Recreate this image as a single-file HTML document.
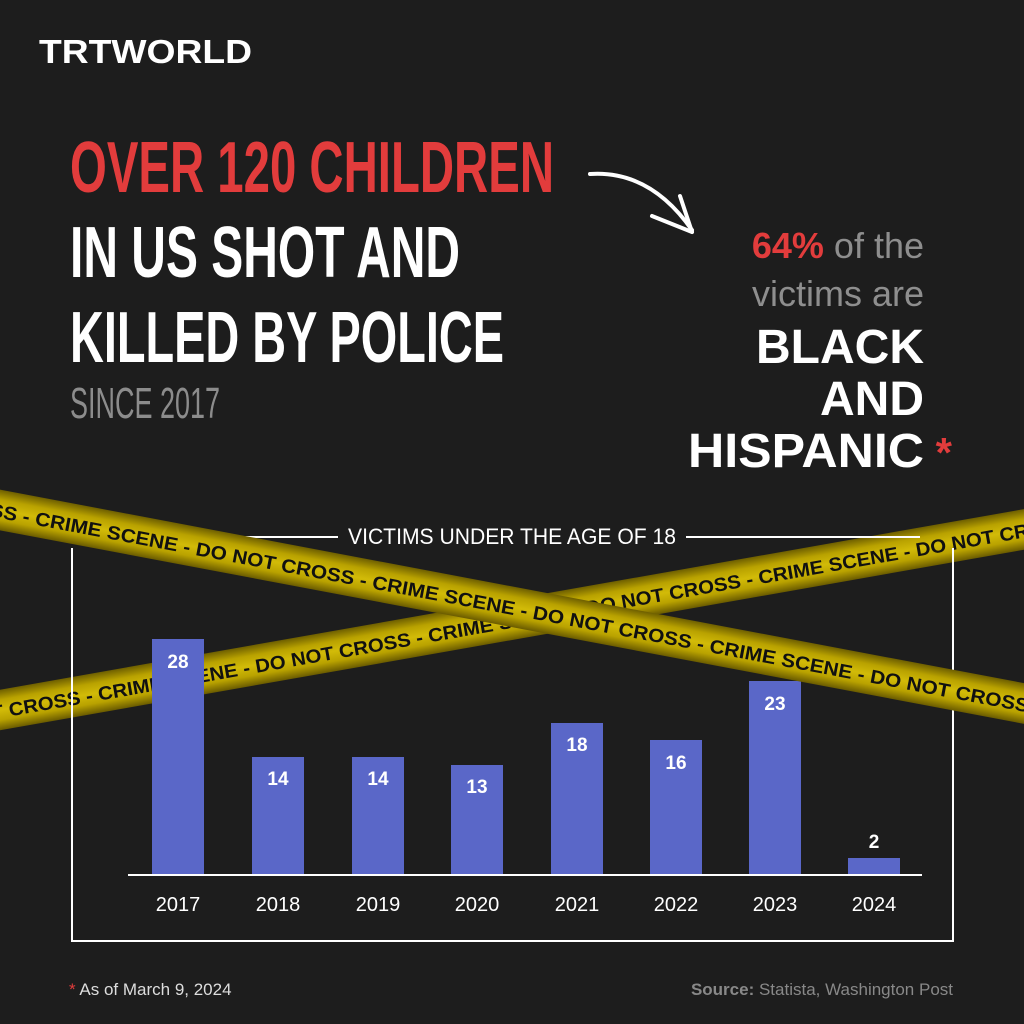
<!DOCTYPE html>
<html><head><meta charset="utf-8"><style>
html,body{margin:0;padding:0;background:#1d1d1d;}
svg{display:block;}
</style></head><body>
<svg width="1024" height="1024" viewBox="0 0 1024 1024" xmlns="http://www.w3.org/2000/svg">
<defs>
<linearGradient id="tg" x1="0" y1="0" x2="0" y2="1">
<stop offset="0" stop-color="#6e5f00"/><stop offset="0.25" stop-color="#b9a200"/><stop offset="0.5" stop-color="#d2bb08"/><stop offset="0.75" stop-color="#b9a200"/><stop offset="1" stop-color="#6a5b00"/>
</linearGradient>
</defs>
<rect width="1024" height="1024" fill="#1d1d1d"/>
<!-- logo -->
<text x="39" y="63" font-family="Liberation Sans, sans-serif" font-weight="bold" font-size="33" fill="#fff" textLength="213" lengthAdjust="spacingAndGlyphs">TRTWORLD</text>
<!-- headline -->
<g font-family="Liberation Sans Narrow, Liberation Sans, sans-serif" font-weight="bold">
<text x="70" y="192" font-size="72" fill="#e23c3c" textLength="484" lengthAdjust="spacingAndGlyphs">OVER 120 CHILDREN</text>
<text x="70" y="277" font-size="72" fill="#fff" textLength="390" lengthAdjust="spacingAndGlyphs">IN US SHOT AND</text>
<text x="70" y="362" font-size="72" fill="#fff" textLength="434" lengthAdjust="spacingAndGlyphs">KILLED BY POLICE</text>
<text x="70" y="418" font-size="44" font-weight="normal" fill="#8c8c8c" textLength="150" lengthAdjust="spacingAndGlyphs">SINCE 2017</text>
</g>
<!-- arrow -->
<g stroke="#fff" stroke-width="4" fill="none" stroke-linecap="round">
<path d="M590 174 Q650 170 692 230"/>
<path d="M692 232 L680 196"/><path d="M692 232 L652 216"/>
</g>
<!-- right text -->
<g font-family="Liberation Sans, sans-serif" text-anchor="end">
<text x="924" y="258" font-size="36" fill="#8e8e8e"><tspan fill="#e23c3c" font-weight="bold">64%</tspan> of the</text>
<text x="924" y="306" font-size="36" fill="#8e8e8e">victims are</text>
<text x="924" y="363" font-size="48" font-weight="bold" fill="#fff">BLACK</text>
<text x="924" y="415" font-size="48" font-weight="bold" fill="#fff">AND</text>
<text x="924" y="467" font-size="48" font-weight="bold" fill="#fff" textLength="236" lengthAdjust="spacingAndGlyphs">HISPANIC</text>
<text x="952" y="467" font-size="42" font-weight="bold" fill="#e23c3c">*</text>
</g>
<!-- tape 2 (under bars) -->
<g transform="translate(0,710) rotate(-10)">
<rect x="-60" y="-20" width="1200" height="40" fill="url(#tg)"/>
<text x="-40" y="8" font-family="Liberation Sans, sans-serif" font-weight="bold" font-size="19" fill="#111" textLength="1160" lengthAdjust="spacingAndGlyphs">NOT CROSS - CRIME SCENE  -  DO NOT CROSS - CRIME SCENE  -  DO NOT CROSS - CRIME SCENE  -  DO NOT CROSS - C</text>
</g>
<!-- chart frame -->
<g stroke="#fff" stroke-width="2" fill="none">
<path d="M72 548 V941 H953 V548"/>
<path d="M207 537 H338"/><path d="M686 537 H920"/>
</g>
<text x="512" y="544" text-anchor="middle" font-family="Liberation Sans Narrow, Liberation Sans, sans-serif" font-size="22" fill="#fff" textLength="328" lengthAdjust="spacingAndGlyphs">VICTIMS UNDER THE AGE OF 18</text>
<!-- bars -->
<g fill="#5a67c8">
<rect x="152" y="639" width="52" height="236"/>
<rect x="252" y="757" width="52" height="118"/>
<rect x="352" y="757" width="52" height="118"/>
<rect x="451" y="765" width="52" height="110"/>
<rect x="551" y="723" width="52" height="152"/>
<rect x="650" y="740" width="52" height="135"/>
<rect x="749" y="681" width="52" height="194"/>
<rect x="848" y="858" width="52" height="17"/>
</g>
<g font-family="Liberation Sans, sans-serif" font-weight="bold" font-size="19" fill="#fff" text-anchor="middle">
<text x="178" y="668">28</text><text x="278" y="785">14</text><text x="378" y="785">14</text><text x="477" y="793">13</text>
<text x="577" y="751">18</text><text x="676" y="769">16</text><text x="775" y="710">23</text><text x="874" y="848">2</text>
</g>
<line x1="128" y1="875" x2="922" y2="875" stroke="#fff" stroke-width="2"/>
<g font-family="Liberation Sans, sans-serif" font-size="20" fill="#fff" text-anchor="middle">
<text x="178" y="911">2017</text><text x="278" y="911">2018</text><text x="378" y="911">2019</text><text x="477" y="911">2020</text>
<text x="577" y="911">2021</text><text x="676" y="911">2022</text><text x="775" y="911">2023</text><text x="874" y="911">2024</text>
</g>
<!-- tape 1 (on top) -->
<g transform="translate(0,510) rotate(10.7)">
<rect x="-60" y="-20" width="1200" height="40" fill="url(#tg)"/>
<text x="-10" y="8" font-family="Liberation Sans, sans-serif" font-weight="bold" font-size="19" fill="#111" textLength="1070" lengthAdjust="spacingAndGlyphs">SS - CRIME SCENE  -  DO NOT CROSS - CRIME SCENE  -  DO NOT CROSS - CRIME SCENE  -  DO NOT CROSS -</text>
</g>
<!-- footer -->
<text x="69" y="995" font-family="Liberation Sans, sans-serif" font-size="17" fill="#ddd"><tspan fill="#e23c3c">*</tspan> As of March 9, 2024</text>
<text x="953" y="995" text-anchor="end" font-family="Liberation Sans, sans-serif" font-size="17" fill="#888"><tspan font-weight="bold">Source:</tspan> Statista, Washington Post</text>
</svg>
</body></html>
